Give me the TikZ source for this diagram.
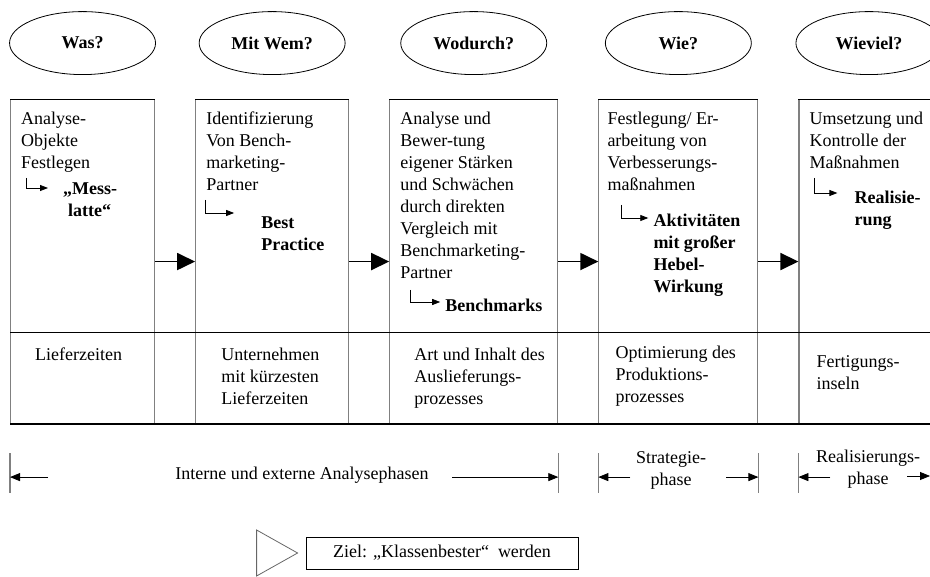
\documentclass[tikz,border=0pt]{standalone}
\usepackage{fontspec}
\setmainfont{Liberation Serif}
\usepackage{tikz}
\usetikzlibrary{arrows.meta, positioning}
\usetikzlibrary{shapes.geometric}

\begin{document}
\begin{tikzpicture}[
    frage/.style={
        ellipse,
        draw=black,
        line width=0.8pt,
        minimum width=146pt,
        minimum height=63pt,
        inner sep=0pt,
        font=\fontsize{18}{22}\selectfont\bfseries
    },
    schritt/.style={
        rectangle,
        draw=black!50,
        line width=1.1pt,
        minimum height=324pt,
        inner sep=0pt
    },
    beschreibung/.style={
        anchor=north west,
        align=left,
        inner sep=0pt,
        font=\fontsize{18}{22}\selectfont
    },
    ergebnis/.style={
        beschreibung,
        font=\fontsize{18}{22}\selectfont\bfseries
    },
    phasentext/.style={
        align=center,
        inner sep=0pt,
        font=\fontsize{18}{22}\selectfont
    },
    pfeil/.style={
        -{Triangle[length=18pt, width=17pt]},
        line width=1.8pt
    },
    knick/.style={
        -{Triangle[length=8pt, width=6pt]},
        line width=0.8pt
    },
    phasenpfeil/.style={
        -{Triangle[length=10pt, width=8pt]},
        line width=0.8pt
    },
    grenze/.style={
        draw=black!50,
        line width=1.1pt
    },
    linie/.style={
        draw=black,
        line width=0.9pt
    }
]
\useasboundingbox (0pt,0pt) rectangle (930pt,-577pt);

% Schritte
\node[schritt, minimum width=144pt, anchor=north west] (box1) at (10pt,-99pt) {};
\node[schritt, minimum width=153pt, right=40pt of box1] (box2) {};
\node[schritt, minimum width=168pt, right=40pt of box2] (box3) {};
\node[schritt, minimum width=159pt, right=40pt of box3] (box4) {};
\node[schritt, minimum width=140pt, right=40pt of box4] (box5) {};

% Fragen
\node[frage, above=24pt of box1] (was) {Was?};
\node[frage, above=24pt of box2] (mitwem) {Mit Wem?};
\node[frage, above=24pt of box3] (wodurch) {Wodurch?};
\node[frage, above=24pt of box4] (wie) {Wie?};
\node[frage, above=24pt of box5] (wieviel) {Wieviel?};

% Linien der Tabelle
\draw[linie] (box1.north west) -- (box1.north east);
\draw[linie] (box2.north west) -- (box2.north east);
\draw[linie] (box3.north west) -- (box3.north east);
\draw[linie] (box4.north west) -- (box4.north east);
\draw[linie] (box5.north west) -- (box5.north east);
\draw[linie] ([yshift=-233pt]box1.north west) -- ([yshift=-233pt]box5.north east);
\draw[linie, line width=1.6pt] (box1.south west) -- (box5.south east);

% Beschreibungen
\node[beschreibung] (txt1) at ([xshift=11pt,yshift=-13pt]box1.north west) {Analyse-\\Objekte\\Festlegen};
\node[beschreibung] (txt2) at ([xshift=11pt,yshift=-13pt]box2.north west) {Identifizierung\\Von Bench-\\marketing-\\Partner};
\node[beschreibung] (txt3) at ([xshift=11pt,yshift=-13pt]box3.north west) {Analyse und\\Bewer-tung\\eigener St\"arken\\und Schw\"achen\\durch direkten\\Vergleich mit\\Benchmarketing-\\Partner};
\node[beschreibung] (txt4) at ([xshift=9pt,yshift=-13pt]box4.north west) {Festlegung/ Er-\\arbeitung von\\Verbesserungs-\\ma\ss nahmen};
\node[beschreibung] (txt5) at ([xshift=11pt,yshift=-13pt]box5.north west) {Umsetzung und\\Kontrolle der\\Ma\ss nahmen};

% Ergebnisse
\node[ergebnis] (erg1) at ([xshift=53pt,yshift=-84pt]box1.north west) {„Mess-\\\hspace*{5pt}latte“};
\node[ergebnis] (erg2) at ([xshift=66pt,yshift=-118pt]box2.north west) {Best\\Practice};
\node[ergebnis] (erg3) at ([xshift=56pt,yshift=-200pt]box3.north west) {Benchmarks};
\node[ergebnis] (erg4) at ([xshift=55pt,yshift=-115pt]box4.north west) {Aktivit\"aten\\mit gro\ss er\\Hebel-\\Wirkung};
\node[ergebnis] (erg5) at ([xshift=56pt,yshift=-92pt]box5.north west) {Realisie-\\rung};

\draw[knick] ([xshift=-37pt,yshift=5pt]erg1.north west) |- ([xshift=-15pt,yshift=-5pt]erg1.north west);
\draw[knick] ([xshift=-56pt,yshift=17pt]erg2.north west) |- ([xshift=-27pt,yshift=4pt]erg2.north west);
\draw[knick] ([xshift=-35pt,yshift=9pt]erg3.north west) |- ([xshift=-5pt,yshift=-3pt]erg3.north west);
\draw[knick] ([xshift=-32pt,yshift=9pt]erg4.north west) |- ([xshift=-5pt,yshift=-4pt]erg4.north west);
\draw[knick] ([xshift=-40pt,yshift=13pt]erg5.north west) |- ([xshift=-17pt,yshift=-2pt]erg5.north west);

% Beispiele
\node[beschreibung] (bsp1) at ([xshift=25pt,yshift=-249pt]box1.north west) {Lieferzeiten};
\node[beschreibung] (bsp2) at ([xshift=26pt,yshift=-249pt]box2.north west) {Unternehmen\\mit k\"urzesten\\Lieferzeiten};
\node[beschreibung] (bsp3) at ([xshift=25pt,yshift=-249pt]box3.north west) {Art und Inhalt des\\Auslieferungs-\\prozesses};
\node[beschreibung] (bsp4) at ([xshift=17pt,yshift=-247pt]box4.north west) {Optimierung des\\Produktions-\\prozesses};
\node[beschreibung] (bsp5) at ([xshift=18pt,yshift=-256pt]box5.north west) {Fertigungs-\\inseln};

% Pfeile zwischen den Schritten
\draw[pfeil] (box1) -- (box2);
\draw[pfeil] (box2) -- (box3);
\draw[pfeil] (box3) -- (box4);
\draw[pfeil] (box4) -- (box5);

% Phasen
\coordinate (ana-l) at ([yshift=-53pt]box1.south west);
\coordinate (ana-r) at ([yshift=-53pt]box3.south east);
\coordinate (str-l) at ([yshift=-53pt]box4.south west);
\coordinate (str-r) at ([yshift=-53pt]box4.south east);
\coordinate (rea-l) at ([yshift=-53pt]box5.south west);
\coordinate (rea-r) at (930pt,-476pt);

\draw[grenze] ([yshift=24pt]ana-l) -- ([yshift=-16pt]ana-l);
\draw[grenze] ([yshift=24pt]ana-r) -- ([yshift=-16pt]ana-r);
\draw[grenze] ([yshift=24pt]str-l) -- ([yshift=-16pt]str-l);
\draw[grenze] ([yshift=24pt]str-r) -- ([yshift=-16pt]str-r);
\draw[grenze] ([yshift=24pt]rea-l) -- ([yshift=-16pt]rea-l);

\node[phasentext] (ana) at (302pt,-475pt) {Interne und externe Analysephasen};
\node[phasentext] (strat) at (671pt,-470pt) {Strategie-\\phase};
\node[phasentext] (real) at (868pt,-469pt) {Realisierungs-\\phase};

\draw[phasenpfeil] ([xshift=38pt]ana-l) -- (ana-l);
\draw[phasenpfeil] ([xshift=-106pt]ana-r) -- (ana-r);
\draw[phasenpfeil] ([xshift=32pt]str-l) -- (str-l);
\draw[phasenpfeil] ([xshift=-32pt]str-r) -- (str-r);
\draw[phasenpfeil] ([xshift=32pt]rea-l) -- (rea-l);
\draw[phasenpfeil] ([xshift=-23pt]rea-r) -- (rea-r);

% Ziel
\node[draw=black, line width=0.8pt, minimum width=272pt, minimum height=32pt,
      font=\fontsize{18}{22}\selectfont] (ziel) at (442pt,-553pt) {Ziel: „Klassenbester“\ \ werden};
\draw[draw=black!60, line width=0.8pt] ([xshift=-49pt,yshift=23pt]ziel.west) -- ([xshift=-8pt]ziel.west)
    -- ([xshift=-49pt,yshift=-23pt]ziel.west) -- cycle;

\end{tikzpicture}
\end{document}
